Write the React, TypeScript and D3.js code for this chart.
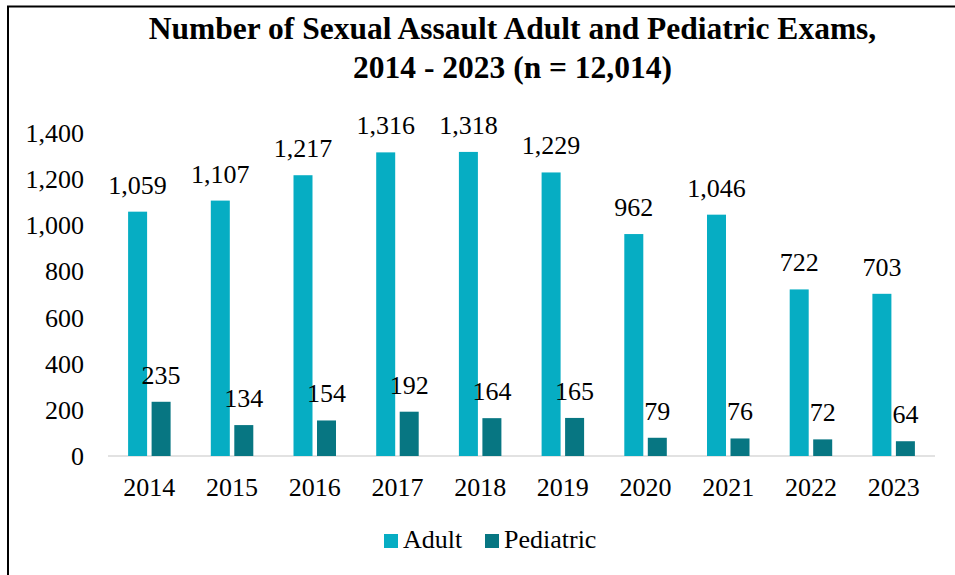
import React from "react";
import * as d3 from "d3";

const years = ["2014", "2015", "2016", "2017", "2018", "2019", "2020", "2021", "2022", "2023"];
const adult = [1059, 1107, 1217, 1316, 1318, 1229, 962, 1046, 722, 703];
const pediatric = [235, 134, 154, 192, 164, 165, 79, 76, 72, 64];
const yTicks = [0, 200, 400, 600, 800, 1000, 1200, 1400];
const seriesNames = ["Adult", "Pediatric"];
const colors = ["#06ADC3", "#077682"];
const titleLines = ["Number of Sexual Assault Adult and Pediatric Exams,", "2014 - 2023 (n = 12,014)"];

const W = 955;
const H = 575;
const FONT = "Liberation Serif, Times New Roman, serif";

export default function App() {
  const left = 108;
  const right = 935;
  const y = d3.scaleLinear().domain([0, 1400]).range([456, 133]);
  const x0 = d3.scaleBand<string>().domain(years).range([left, right]).paddingInner(0).paddingOuter(0);
  const bw = x0.bandwidth();
  const barW = 19;
  const gap = 4.5;
  const x1 = d3
    .scaleOrdinal<string, number>()
    .domain(seriesNames)
    .range([bw / 2 - gap / 2 - barW, bw / 2 + gap / 2]);
  const fmt = d3.format(",");
  const series = [adult, pediatric];
  const fs = 26;

  return (
    <svg
      width={W}
      height={H}
      style={{ position: "absolute", left: 0, top: 0, background: "#fff", fontFamily: FONT }}
    >
      <rect x={0} y={0} width={W} height={H} fill="#fff" />
      <path d={`M8,${H + 5} L8,6.5 L${W + 5},6.5`} fill="none" stroke="#000" strokeWidth={2} />
      {titleLines.map((t, i) => (
        <text key={i} x={512.5} y={39 + i * 39} textAnchor="middle" fontSize={31.5} fontWeight="bold" fill="#000">
          {t}
        </text>
      ))}
      {yTicks.map((t) => (
        <text key={t} x={84} y={y(t) + 9} textAnchor="end" fontSize={fs} fill="#000">
          {fmt(t)}
        </text>
      ))}
      <line x1={left} x2={right} y1={y(0)} y2={y(0)} stroke="#d9d9d9" strokeWidth={1.5} />
      {years.map((yr, i) => (
        <g key={yr} transform={`translate(${x0(yr)},0)`}>
          {seriesNames.map((s, j) => {
            const v = series[j][i];
            const bx = x1(s) as number;
            return (
              <g key={s}>
                <rect x={bx} y={y(v)} width={barW} height={y(0) - y(v)} fill={colors[j]} />
                <text x={bx + barW / 2} y={y(v) - 18} textAnchor="middle" fontSize={fs} fill="#000">
                  {fmt(v)}
                </text>
              </g>
            );
          })}
          <text x={bw / 2} y={496} textAnchor="middle" fontSize={fs} fill="#000">
            {yr}
          </text>
        </g>
      ))}
      <g>
        <rect x={384} y={534} width={14} height={14} fill={colors[0]} />
        <text x={403} y={548} fontSize={fs} fill="#000">
          {seriesNames[0]}
        </text>
        <rect x={485} y={534} width={14} height={14} fill={colors[1]} />
        <text x={504} y={548} fontSize={fs} fill="#000">
          {seriesNames[1]}
        </text>
      </g>
    </svg>
  );
}
